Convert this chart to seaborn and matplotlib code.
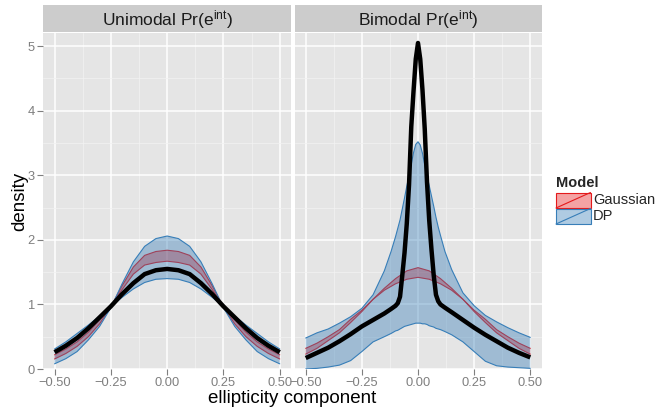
import numpy as np
import pandas as pd
import matplotlib
matplotlib.use("Agg")
import matplotlib.pyplot as plt
from matplotlib.patches import Rectangle
from matplotlib.colors import to_rgba
import seaborn as sns

# ---------------- data ----------------
panel_titles = [r"Unimodal Pr(e$^{\mathrm{int}}$)", r"Bimodal Pr(e$^{\mathrm{int}}$)"]
model_names = ["Gaussian", "DP"]

# Unimodal panel: common x grid
x_uni = [-0.5, -0.45, -0.4, -0.35, -0.3, -0.25, -0.2, -0.15, -0.1, -0.05, 0.0,
         0.05, 0.1, 0.15, 0.2, 0.25, 0.3, 0.35, 0.4, 0.45, 0.5]
true_uni = [0.26, 0.36, 0.48, 0.63, 0.80, 0.97, 1.16, 1.33, 1.47, 1.53, 1.55,
            1.53, 1.47, 1.33, 1.16, 0.97, 0.80, 0.63, 0.48, 0.36, 0.26]
gauss_uni_a = [0.155, 0.24, 0.35, 0.50, 0.70, 0.96, 1.29, 1.58, 1.76, 1.82, 1.84,
               1.82, 1.76, 1.58, 1.29, 0.96, 0.70, 0.50, 0.35, 0.24, 0.155]
gauss_uni_b = [0.22, 0.31, 0.42, 0.57, 0.76, 0.97, 1.23, 1.47, 1.61, 1.65, 1.67,
               1.65, 1.61, 1.47, 1.23, 0.97, 0.76, 0.57, 0.42, 0.31, 0.22]
dp_uni_a = [0.08, 0.16, 0.27, 0.45, 0.66, 0.95, 1.32, 1.66, 1.90, 2.02, 2.06,
            2.02, 1.90, 1.66, 1.32, 0.95, 0.66, 0.45, 0.27, 0.16, 0.08]
dp_uni_b = [0.31, 0.42, 0.55, 0.68, 0.82, 0.97, 1.11, 1.24, 1.34, 1.39, 1.40,
            1.39, 1.34, 1.24, 1.11, 0.97, 0.82, 0.68, 0.55, 0.42, 0.31]

# Bimodal panel: Gaussian band on a coarse grid
x_bi_coarse = [-0.5, -0.45, -0.4, -0.35, -0.3, -0.25, -0.2, -0.15, -0.1, -0.05, 0.0,
               0.05, 0.1, 0.15, 0.2, 0.25, 0.3, 0.35, 0.4, 0.45, 0.5]
gauss_bi_a = [0.23, 0.32, 0.44, 0.56, 0.72, 0.89, 1.08, 1.25, 1.40, 1.52, 1.57,
              1.52, 1.40, 1.25, 1.08, 0.89, 0.72, 0.56, 0.44, 0.32, 0.23]
gauss_bi_b = [0.32, 0.40, 0.50, 0.61, 0.77, 0.91, 1.08, 1.22, 1.32, 1.39, 1.42,
              1.39, 1.32, 1.22, 1.08, 0.91, 0.77, 0.61, 0.50, 0.40, 0.32]

# Bimodal panel: DP band and true density on a finer grid
x_bi_fine = [-0.5, -0.45, -0.4, -0.35, -0.3, -0.25, -0.2, -0.15, -0.12, -0.1,
             -0.09, -0.08, -0.07, -0.06, -0.05, -0.04, -0.03, -0.02, -0.01, 0.0,
             0.01, 0.02, 0.03, 0.04, 0.05, 0.06, 0.07, 0.08, 0.09, 0.1,
             0.12, 0.15, 0.2, 0.25, 0.3, 0.35, 0.4, 0.45, 0.5]
dp_bi_upper = [0.48, 0.56, 0.62, 0.71, 0.81, 0.94, 1.15, 1.52, 1.82, 2.05,
               2.18, 2.31, 2.48, 2.65, 2.83, 3.00, 3.17, 3.35, 3.48, 3.52,
               3.47, 3.34, 3.16, 2.99, 2.84, 2.68, 2.52, 2.35, 2.20, 2.07,
               1.82, 1.54, 1.18, 0.98, 0.83, 0.73, 0.64, 0.56, 0.49]
dp_bi_lower = [0.0, 0.01, 0.03, 0.06, 0.13, 0.27, 0.42, 0.50, 0.55, 0.59,
               0.60, 0.62, 0.64, 0.66, 0.67, 0.68, 0.69, 0.70, 0.71, 0.71,
               0.71, 0.70, 0.70, 0.69, 0.67, 0.66, 0.65, 0.63, 0.62, 0.61,
               0.58, 0.53, 0.42, 0.27, 0.12, 0.05, 0.03, 0.02, 0.01]
true_bi = [0.17, 0.25, 0.33, 0.43, 0.54, 0.66, 0.76, 0.86, 0.93, 0.98,
           1.02, 1.12, 1.45, 1.80, 2.25, 2.85, 3.75, 4.30, 4.80, 5.05,
           4.80, 4.32, 3.72, 2.90, 2.30, 1.85, 1.45, 1.15, 1.05, 1.00,
           0.95, 0.88, 0.76, 0.64, 0.53, 0.43, 0.33, 0.25, 0.18]

x_ticks = [-0.5, -0.25, 0.0, 0.25, 0.5]
x_ticklabels = ["\u22120.50", "\u22120.25", "0.00", "0.25", "0.50"]
y_ticks = [0, 1, 2, 3, 4, 5]

# ---------------- style ----------------
sns.set_theme(style="darkgrid")
plt.rcParams["font.family"] = ["Liberation Sans", "DejaVu Sans"]
plt.rcParams["mathtext.fontset"] = "custom"
plt.rcParams["mathtext.rm"] = "Liberation Sans"
plt.rcParams["mathtext.it"] = "Liberation Sans:italic"

RED = "#E41A1C"
BLUE = "#377EB8"
PANEL = "#E5E5E5"
GREY = "#7F7F7F"

W, H = 668, 407
fig = plt.figure(figsize=(W / 100, H / 100), dpi=100)
fig.patch.set_facecolor("white")


def fax(l, t, r, b):
    return fig.add_axes([l / W, 1 - b / H, (r - l) / W, (b - t) / H])


ax1 = fax(43.3, 33.3, 291.0, 369.0)
ax2 = fax(294.5, 33.3, 541.5, 369.0)
st1 = fax(43.3, 5.0, 291.0, 32.3)
st2 = fax(294.5, 5.0, 541.5, 32.3)


def band(ax, x, a, b, col):
    ax.fill_between(x, a, b, facecolor=to_rgba(col, 0.4), edgecolor="none", zorder=2)
    ax.plot(x, a, color=col, lw=0.8, zorder=2)
    ax.plot(x, b, color=col, lw=0.8, zorder=2)


def true_line(ax, x, y):
    df = pd.DataFrame({"x": x, "density": y})
    sns.lineplot(data=df, x="x", y="density", ax=ax, color="black", lw=3.2,
                 estimator=None, sort=False, legend=False, zorder=3,
                 solid_joinstyle="round", solid_capstyle="butt")


band(ax1, x_uni, gauss_uni_a, gauss_uni_b, RED)
band(ax1, x_uni, dp_uni_a, dp_uni_b, BLUE)
true_line(ax1, x_uni, true_uni)

band(ax2, x_bi_coarse, gauss_bi_a, gauss_bi_b, RED)
band(ax2, x_bi_fine, dp_bi_upper, dp_bi_lower, BLUE)
true_line(ax2, x_bi_fine, true_bi)

for i, ax in enumerate([ax1, ax2]):
    ax.set_facecolor(PANEL)
    ax.set_xlim(-0.55, 0.55)
    ax.set_ylim(0, 5.2)
    ax.set_xticks(x_ticks)
    ax.set_xticklabels(x_ticklabels)
    ax.set_xticks([-0.375, -0.125, 0.125, 0.375], minor=True)
    ax.set_yticks(y_ticks)
    ax.set_yticks([0.5, 1.5, 2.5, 3.5, 4.5], minor=True)
    ax.grid(which="major", color="white", lw=1.1)
    ax.grid(which="minor", color="#F2F2F2", lw=0.55)
    ax.set_axisbelow(True)
    for s in ax.spines.values():
        s.set_visible(False)
    ax.set_xlabel("")
    ax.set_ylabel("")
    ax.tick_params(which="major", length=4, width=0.8, color=GREY,
                   labelcolor=GREY, labelsize=9.3, pad=2,
                   bottom=True, left=(i == 0), labelleft=(i == 0))
    ax.tick_params(which="minor", length=0)

for st, title in zip([st1, st2], panel_titles):
    st.set_facecolor("#CCCCCC")
    st.set_xticks([])
    st.set_yticks([])
    st.grid(False)
    for s in st.spines.values():
        s.set_visible(False)
    st.text(0.5, 0.47, title, ha="center", va="center", fontsize=12.5,
            color="#1A1A1A", transform=st.transAxes)

fig.text(292.4 / W, 1 - 398.5 / H, "ellipticity component", ha="center",
         va="center", fontsize=13.5, color="black")
fig.text(20 / W, 1 - 201 / H, "density", ha="center", va="center",
         rotation=90, fontsize=13.5, color="black")

# legend drawn in pixel space
ov = fig.add_axes([0, 0, 1, 1])
ov.set_xlim(0, W)
ov.set_ylim(H, 0)
ov.axis("off")
ov.patch.set_visible(False)
ov.text(556, 183, "Model", fontsize=10.5, fontweight="bold", ha="left", va="center")
for j, (name, col) in enumerate(zip(model_names, [RED, BLUE])):
    top = 192.5 + 16 * j
    ov.add_patch(Rectangle((556, top), 34.5, 15.5, facecolor=to_rgba(col, 0.4),
                           edgecolor=col, lw=0.8))
    ov.plot([556, 590.5], [top + 15.5, top], color=col, lw=0.8)
    ov.text(593, top + 8, name, fontsize=10.5, ha="left", va="center")

fig.savefig("out.png", dpi=100)
